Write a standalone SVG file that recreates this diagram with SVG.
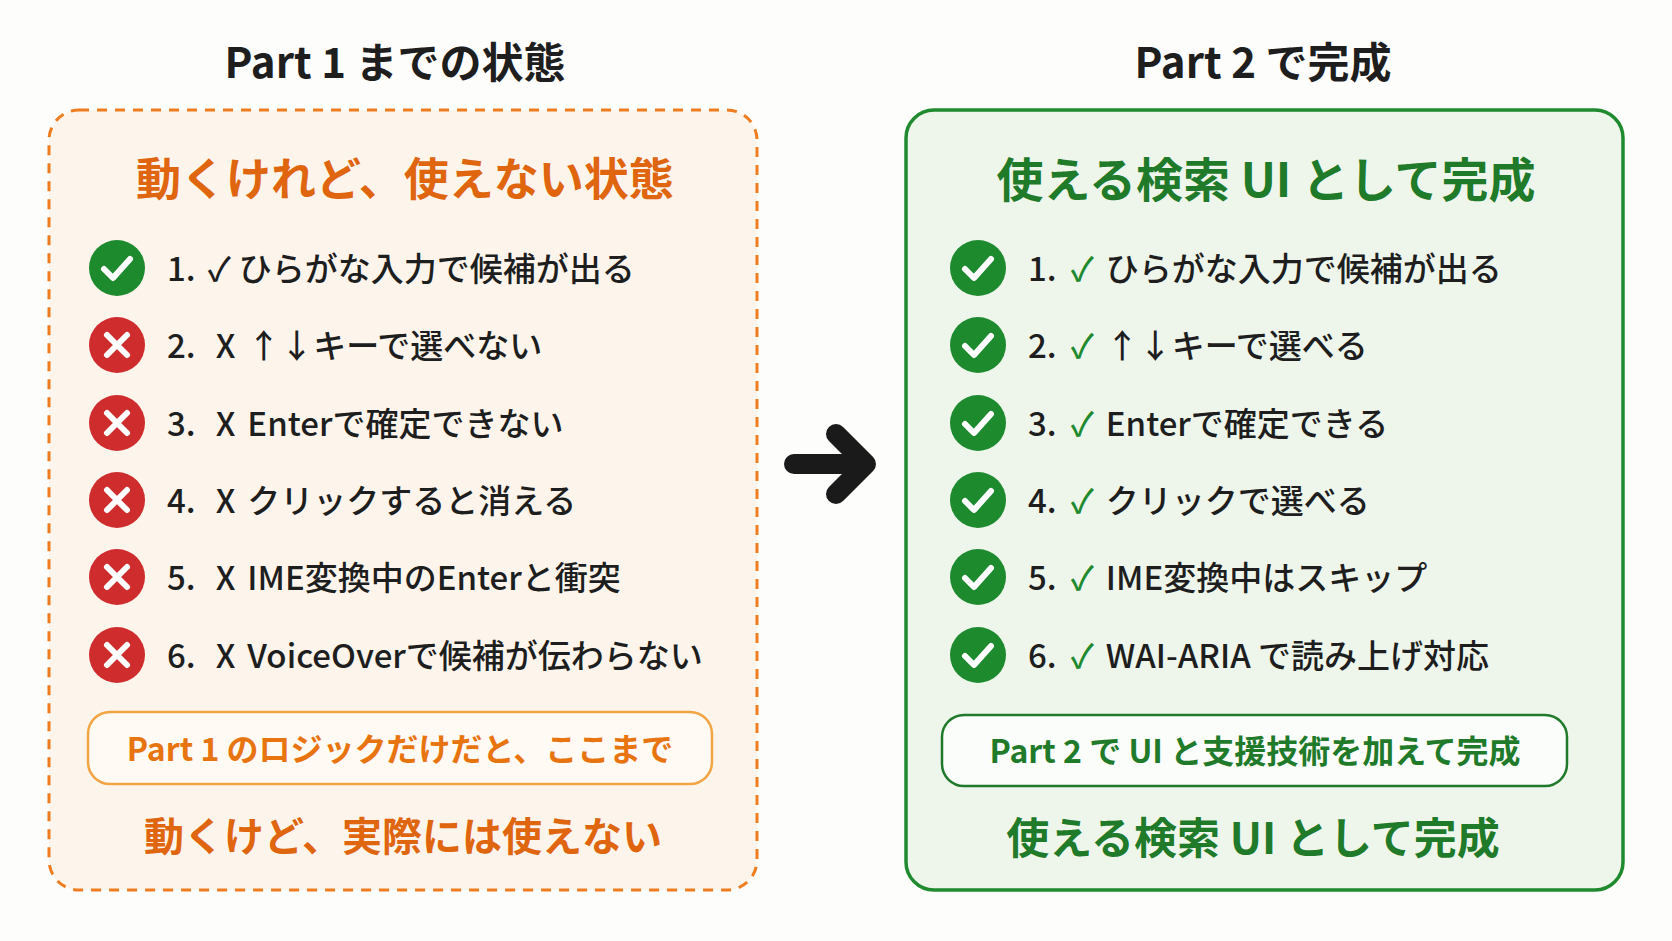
<svg xmlns="http://www.w3.org/2000/svg" width="1672" height="941" viewBox="0 0 1672 941">
<style>
text{font-family:"Noto Sans CJK JP","Noto Sans",sans-serif;}
.title{font-size:42px;font-weight:700;fill:#1e1e1e;text-anchor:middle;}
.hl{font-size:45px;font-weight:700;fill:#e0650f;text-anchor:middle;}
.hr{font-size:47px;font-weight:700;fill:#1f7a2a;text-anchor:middle;}
.item{font-size:33px;font-weight:500;fill:#1e1e1e;}
.gk{fill:#1f8a2e;}
.fl{font-size:32px;font-weight:700;fill:#e8740f;text-anchor:middle;}
.fr{font-size:32px;font-weight:700;fill:#1f7a2a;text-anchor:middle;}
.bl{font-size:40px;font-weight:700;fill:#e0650f;text-anchor:middle;}
.br{font-size:43px;font-weight:700;fill:#1f7a2a;text-anchor:middle;}
.ok{fill:#1d8a2e;}
.ng{fill:#cf2d2d;}
.mk{fill:none;stroke:#fff;stroke-width:6;stroke-linecap:round;stroke-linejoin:round;}
</style>
<defs>
<g id="ok"><circle r="28" class="ok"/><path class="mk" d="M-13,1 L-4,10 L13,-9"/></g>
<g id="ng"><circle r="28" class="ng"/><path class="mk" d="M-10,-10 L10,10 M10,-10 L-10,10"/></g>
</defs>
<rect width="1672" height="941" fill="#fdfdfc"/>
<g id="left">
<text class="title" x="395" y="78">Part 1 までの状態</text>
<rect x="49" y="110" width="708" height="780" rx="30" fill="#fdf5ec" stroke="#ef7d1f" stroke-width="3" stroke-dasharray="10 8"/>
<text class="hl" x="405" y="196">動くけれど、使えない状態</text>
<use href="#ok" x="117" y="268"/><text class="item" x="167" y="281">1.<tspan dx="12">✓</tspan><tspan dx="8">ひらがな入力で候補が出る</tspan></text>
<use href="#ng" x="117" y="345"/><text class="item" x="167" y="358">2.<tspan dx="20">X</tspan><tspan dx="12">↑↓キーで選べない</tspan></text>
<use href="#ng" x="117" y="423"/><text class="item" x="167" y="436">3.<tspan dx="20">X</tspan><tspan dx="12">Enterで確定できない</tspan></text>
<use href="#ng" x="117" y="500"/><text class="item" x="167" y="513">4.<tspan dx="20">X</tspan><tspan dx="12">クリックすると消える</tspan></text>
<use href="#ng" x="117" y="577"/><text class="item" x="167" y="590">5.<tspan dx="20">X</tspan><tspan dx="12">IME変換中のEnterと衝突</tspan></text>
<use href="#ng" x="117" y="655"/><text class="item" x="167" y="668">6.<tspan dx="20">X</tspan><tspan dx="12">VoiceOverで候補が伝わらない</tspan></text>
<rect x="88" y="712" width="624" height="72" rx="22" fill="#fffaf4" stroke="#f3a443" stroke-width="2.5"/>
<text class="fl" x="400" y="761">Part 1 のロジックだけだと、ここまで</text>
<text class="bl" x="403" y="851">動くけど、実際には使えない</text>
</g>
<g id="right">
<text class="title" x="1263" y="78">Part 2 で完成</text>
<rect x="906" y="110" width="717" height="780" rx="28" fill="#eef6ec" stroke="#1f8a2e" stroke-width="3.5"/>
<text class="hr" x="1266" y="197">使える検索 UI として完成</text>
<use href="#ok" x="978" y="268"/><text class="item" x="1028" y="281">1.<tspan dx="14" class="gk">✓</tspan><tspan dx="12">ひらがな入力で候補が出る</tspan></text>
<use href="#ok" x="978" y="345"/><text class="item" x="1028" y="358">2.<tspan dx="14" class="gk">✓</tspan><tspan dx="12">↑↓キーで選べる</tspan></text>
<use href="#ok" x="978" y="423"/><text class="item" x="1028" y="436">3.<tspan dx="14" class="gk">✓</tspan><tspan dx="12">Enterで確定できる</tspan></text>
<use href="#ok" x="978" y="500"/><text class="item" x="1028" y="513">4.<tspan dx="14" class="gk">✓</tspan><tspan dx="12">クリックで選べる</tspan></text>
<use href="#ok" x="978" y="577"/><text class="item" x="1028" y="590">5.<tspan dx="14" class="gk">✓</tspan><tspan dx="12">IME変換中はスキップ</tspan></text>
<use href="#ok" x="978" y="655"/><text class="item" x="1028" y="668">6.<tspan dx="14" class="gk">✓</tspan><tspan dx="12">WAI-ARIA で読み上げ対応</tspan></text>
<rect x="942" y="715" width="625" height="71" rx="22" fill="#fbfdfa" stroke="#1f7a2a" stroke-width="2.5"/>
<text class="fr" x="1255" y="763">Part 2 で UI と支援技術を加えて完成</text>
<text class="br" x="1253" y="854">使える検索 UI として完成</text>
</g>
<g id="connectors">
<path d="M794,464 L862,464 M836,434 L866,464 L836,494" fill="none" stroke="#1a1a1a" stroke-width="20" stroke-linecap="round" stroke-linejoin="round"/>
</g>
</svg>
